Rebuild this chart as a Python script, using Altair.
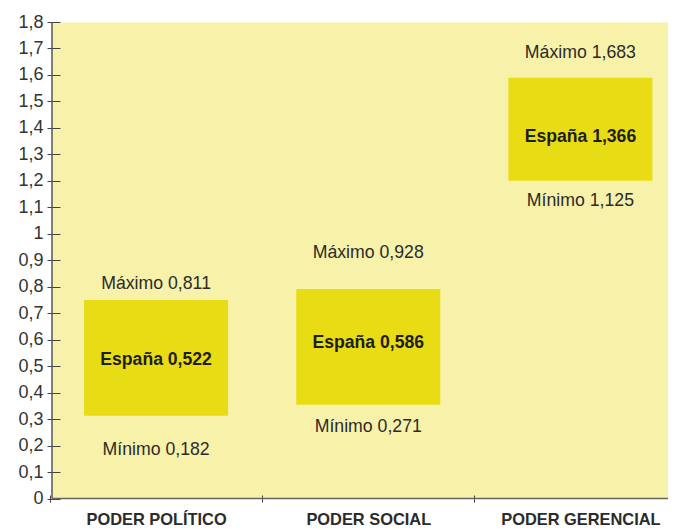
import altair as alt
import pandas as pd

categories = ["PODER POLÍTICO", "PODER SOCIAL", "PODER GERENCIAL"]
espana = [0.522, 0.586, 1.366]
maximo = [0.811, 0.928, 1.683]
minimo = [0.182, 0.271, 1.125]
box_low = [0.313, 0.354, 1.200]
box_high = [0.750, 0.791, 1.589]
y_ticks = [round(i * 0.1, 1) for i in range(19)]

def fmt(v):
    return f"{v:.3f}".replace(".", ",")

df = pd.DataFrame({
    "cat": categories,
    "espana": espana,
    "maximo": maximo,
    "minimo": minimo,
    "low": box_low,
    "high": box_high,
    "lab_esp": [f"España {fmt(v)}" for v in espana],
    "lab_max": [f"Máximo {fmt(v)}" for v in maximo],
    "lab_min": [f"Mínimo {fmt(v)}" for v in minimo],
})

W, H = 616, 476.5
BG = "#F7F1AA"
BOX = "#E8DC14"
TXT = "#2b2b2b"
FONT = "Liberation Sans, Arial, sans-serif"

xscale = alt.Scale(domain=categories, range=[-2, 634.5], paddingInner=0, paddingOuter=0)
yscale = alt.Scale(domain=[0, 1.8], nice=False, zero=True)

xaxis = alt.Axis(title=None, labelAngle=0, tickBand="extent", offset=-3.5, tickSize=7,
                 domain=False, grid=False, tickColor="#444", labelColor=TXT,
                 labelFont=FONT, labelFontSize=16.4, labelFontWeight="bold",
                 labelPadding=9, labelLimit=0)
yaxis = alt.Axis(title=None, values=y_ticks, format=".1~f",
                 labelExpr="replace(datum.label, '.', ',')",
                 offset=-8, tickSize=13, domain=False, grid=False, tickColor="#444",
                 labelColor="#333", labelFont=FONT, labelOverlap=False,
                 labelFontSize=18, labelPadding=4)

base = alt.Chart(df)

def X():
    return alt.X("cat:N", scale=xscale, axis=xaxis, sort=categories)

def Y(field):
    return alt.Y(f"{field}:Q", scale=yscale, axis=yaxis)

boxes = base.mark_bar(size=144, color=BOX).encode(
    x=X(), y=Y("low"), y2="high:Q",
)

def label_layer(field, text, bold=False):
    kw = dict(font=FONT, fontSize=17.7, color=TXT, baseline="middle")
    if bold:
        kw.update(fontWeight="bold", color="#1e1e1e", fontSize=17.6)
    return base.mark_text(**kw).encode(x=X(), y=Y(field), text=f"{text}:N")

t_max = label_layer("maximo", "lab_max")
t_min = label_layer("minimo", "lab_min")
t_esp = label_layer("espana", "lab_esp", bold=True)

axis_src = pd.DataFrame({"a": [0]})
yline = alt.Chart(axis_src).mark_rule(color="#555", strokeWidth=1.5).encode(
    x=alt.value(0), y=alt.value(0), y2=alt.value(H))
xline = alt.Chart(axis_src).mark_rule(color="#666", strokeWidth=1.5).encode(
    x=alt.value(0), x2=alt.value(W), y=alt.value(H))

chart = alt.layer(boxes, t_max, t_min, t_esp, yline, xline).properties(
    width=W, height=H,
    autosize=alt.AutoSizeParams(type="none"),
    padding={"left": 44, "top": 14, "right": 0, "bottom": 30},
    background="white",
).configure_view(fill=BG, stroke="transparent")

chart.save("out.html", embed_options={"renderer": "svg", "actions": False})
